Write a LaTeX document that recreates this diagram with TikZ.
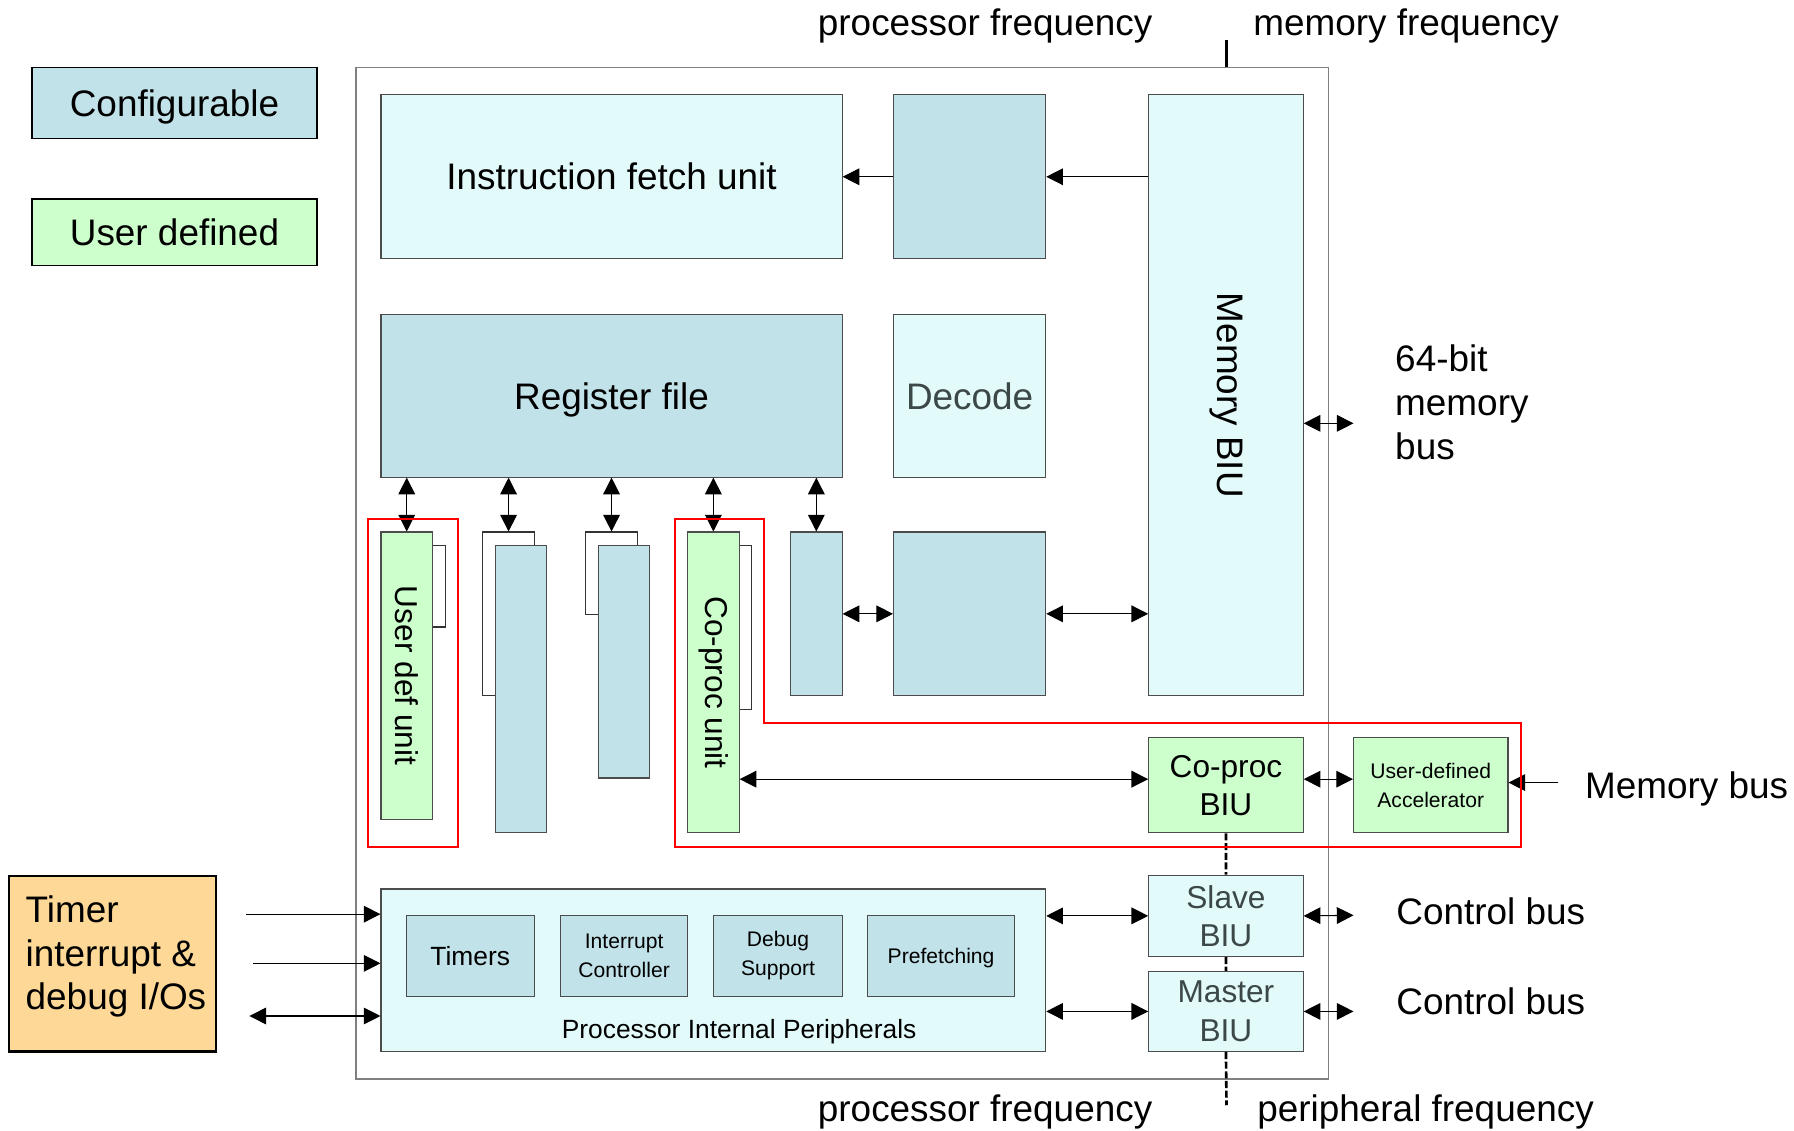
\documentclass[tikz,border=0pt]{standalone}
\usepackage{fontspec}
\setmainfont{Liberation Sans}
\usetikzlibrary{arrows.meta,fit,positioning}

\definecolor{cfgblue}{RGB}{192,226,232}
\definecolor{litecyan}{RGB}{226,250,250}
\definecolor{usrgreen}{RGB}{204,255,204}
\definecolor{tioorange}{RGB}{253,216,150}
\definecolor{dimtext}{RGB}{60,72,72}

\newcommand{\fbig}{\fontsize{21}{25}\selectfont}
\newcommand{\fmid}{\fontsize{18}{21.8}\selectfont}
\newcommand{\fsmall}{\fontsize{15}{18}\selectfont}
\newcommand{\ftiny}{\fontsize{12}{16.5}\selectfont}

\begin{document}
\begin{tikzpicture}[x=0.22882mm, y=-0.22882mm, line width=0.6pt, >={Triangle[length=9.5pt,width=9.5pt]}]
	\tikzstyle{every node} = [inner sep=0pt, font=\fbig]
	\tikzstyle{every label} = [inner sep=0pt, align=center]
	\tikzstyle{cfg} = [draw=black!70, fill=cfgblue]
	\tikzstyle{lite} = [draw=black!70, fill=litecyan]
	\tikzstyle{usr} = [draw=black!70, fill=usrgreen]
	\tikzstyle{shad} = [draw=black!80, fill=white]
	\tikzstyle{redbox} = [draw=red, line width=1.2pt]
	\tikzstyle{freq} = [line width=1.5pt]
	\useasboundingbox (0,0) rectangle (1568,988);

	% legend
	\node[cfg, draw=black, line width=1pt, fit={(28,59) (277,121)}, label={[text depth=0pt]center:Configurable}] (legcfg) {};
	\node[usr, draw=black, line width=1pt, fit={(28,174) (277,232)}, label=center:User defined] (legusr) {};

	% processor
	\node[draw=black!50, line width=0.8pt, fit={(311,59) (1161,943)}] (proc) {};
	\node[lite, fit={(333,83) (736,226)}, label=center:Instruction fetch unit] (ifu) {};
	\node[cfg, fit={(781,83) (914,226)}] (fbuf) {};
	\node[lite, fit={(1004,83) (1139,608)}] (membiu) {};
	\node[rotate=-90] (membiutxt) at (membiu.center) {Memory BIU};
	\node[cfg, fit={(333,275) (736,417)}, label={[text depth=0pt]center:Register file}] (regf) {};
	\node[lite, fit={(781,275) (914,417)}, label={[text=dimtext]center:Decode}] (dec) {};

	% units under the register file
	\node[shad, fit={(345,477) (389,548)}] (udush) {};
	\node[usr, fit={(333,465) (378,716)}] (udu) {};
	\node[rotate=-90, font=\fmid] (udutxt) at (udu.center) {User def unit};
	\node[shad, fit={(422,465) (467,608)}] (slota) {};
	\node[cfg, fit={(433,477) (478,728)}] (slotb) {};
	\node[shad, fit={(512,465) (557,537)}] (slotc) {};
	\node[cfg, fit={(523,477) (568,680)}] (slotd) {};
	\node[shad, fit={(612,477) (657,620)}] (cpush) {};
	\node[usr, fit={(601,465) (646,728)}] (cpu) {};
	\node[rotate=-90, font=\fmid] (cputxt) at (cpu.center) {Co-proc unit};
	\node[cfg, fit={(691,465) (736,608)}] (lsu) {};
	\node[cfg, fit={(781,465) (914,608)}] (exe) {};

	\node[usr, fit={(1004,645) (1139,728)}, label={[font=\fmid]center:Co-proc\\BIU}] (cpbiu) {};
	\node[usr, fit={(1183,645) (1318,728)}, label={[font=\ftiny]center:User-defined\\Accelerator}] (acc) {};

	% peripherals
	\node[lite, fit={(333,777) (914,919)}] (pip) {};
	\node[cfg, fit={(355,800) (467,871)}, label={[font=\fsmall]center:Timers}] (tmr) {};
	\node[cfg, fit={(490,800) (601,871)}, label={[font=\ftiny]center:Interrupt\\Controller}] (intc) {};
	\node[cfg, fit={(624,800) (736,871)}, label={[font=\ftiny]center:Debug\\Support}] (dbg) {};
	\node[cfg, fit={(758,800) (887,871)}, label={[font=\ftiny, text depth=0pt]center:Prefetching}] (pref) {};
	\node[font=\fsmall, anchor=base] (piptxt) at (646,908) {Processor Internal Peripherals};
	\node[lite, fit={(1004,765) (1139,836)}, label={[font=\fmid, text=dimtext]center:Slave\\BIU}] (slave) {};
	\node[lite, fit={(1004,849) (1139,919)}, label={[font=\fmid, text=dimtext]center:Master\\BIU}] (master) {};

	\node[draw=black, line width=1.2pt, fill=tioorange, fit={(8,766) (189,919)}] (tio) {};
	\node[anchor=west, align=left] (tiotxt) at (22,836) {Timer\\interrupt \&\\debug I/Os};

	% outside labels
	\node[anchor=base] (pfqtop) at (861,31) {processor frequency};
	\node[anchor=base] (mfq) at (1229,31) {memory frequency};
	\node[anchor=base] (pfqbot) at (861,980) {processor frequency};
	\node[anchor=base] (perfq) at (1246,980) {peripheral frequency};
	\node[anchor=west, align=left] (bus64) at (1219,352) {64-bit\\memory\\bus};
	\node[anchor=base west] (mbus) at (1385,698) {Memory bus};
	\node[anchor=base west] (cbus1) at (1220,808) {Control bus};
	\node[anchor=base west] (cbus2) at (1220,887) {Control bus};

	\coordinate (m64) at (1183,370);
	\coordinate (mbin) at (1362,684);
	\coordinate (cb1) at (1183,800);
	\coordinate (cb2) at (1183,884);
	\coordinate (tin1) at (215,799);
	\coordinate (tin2) at (221,842);
	\coordinate (tio3) at (218,888);
	\coordinate (cpy) at (0,681);
	\coordinate (mftick) at (1072,35);
	\coordinate (pftick) at (1072,966);

	\draw [->] (membiu.west |- fbuf.east)--(fbuf.east);
	\draw [->] (fbuf.west)--(ifu.east);
	\draw [<->] (regf.south -| udu.north)--(udu.north);
	\draw [<->] (regf.south -| slota.north)--(slota.north);
	\draw [<->] (regf.south -| slotc.north)--(slotc.north);
	\draw [<->] (regf.south -| cpu.north)--(cpu.north);
	\draw [<->] (regf.south -| lsu.north)--(lsu.north);
	\draw [<->] (lsu.east)--(exe.west);
	\draw [<->] (exe.east)--(membiu.west |- exe.east);
	\draw [<->] (membiu.east |- m64)--(m64);
	\draw [<->] (cpu.east |- cpy)--(cpbiu.west |- cpy);
	\draw [<->] (cpbiu.east |- cpy)--(acc.west |- cpy);
	\draw [->] (mbin)--(acc.east |- mbin);
	\draw [<->] (pip.east |- slave.west)--(slave.west);
	\draw [<->] (pip.east |- master.west)--(master.west);
	\draw [<->] (slave.east)--(cb1);
	\draw [<->] (master.east)--(cb2);
	\draw [->] (tin1)--(pip.west |- tin1);
	\draw [->] (tin2)--(pip.west |- tin2);
	\draw [<->] (tio3)--(pip.west |- tio3);

	\draw [freq] (mftick)--(mftick |- proc.north);
	\draw [freq, dash pattern=on 4pt off 1.5pt] (cpbiu.south)--(slave.north) (slave.south)--(master.north) (master.south)--(pftick);

	\draw [redbox] (322,454) rectangle (400,740);
	\draw [redbox] (590,454)--(668,454)--(668,632)--(1329,632)--(1329,740)--(590,740)--cycle;
\end{tikzpicture}
\end{document}
